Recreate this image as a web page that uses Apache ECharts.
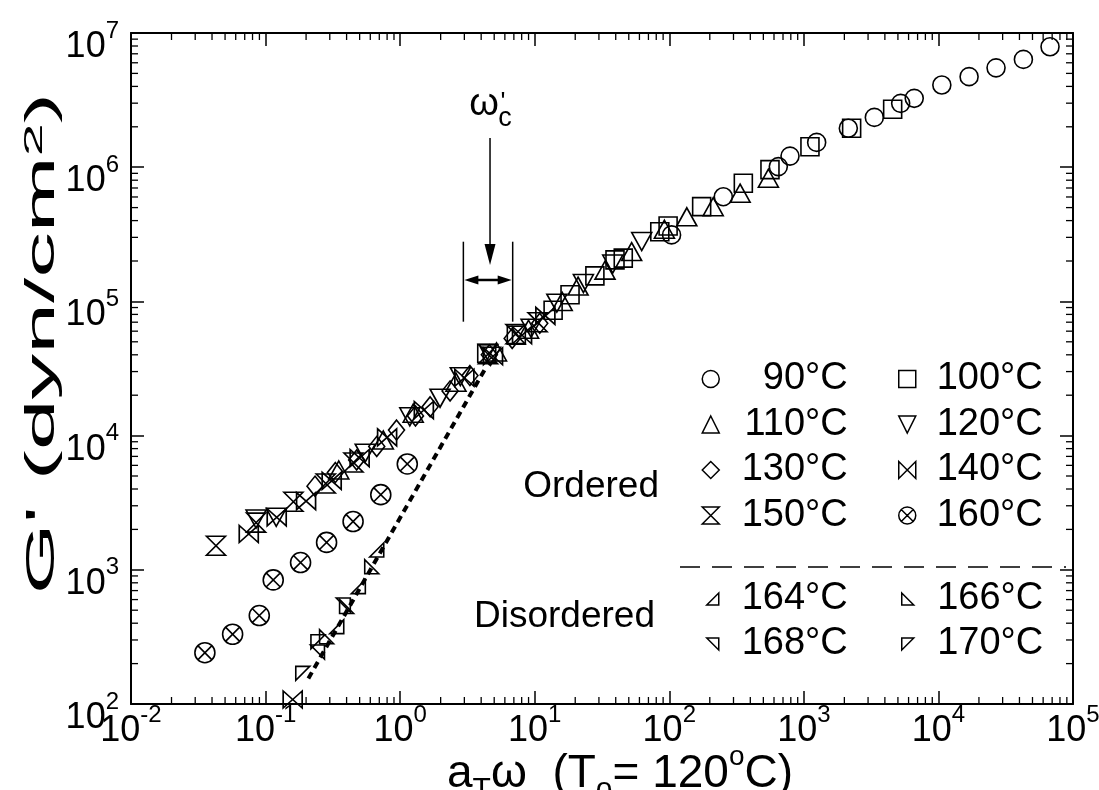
<!DOCTYPE html>
<html><head><meta charset="utf-8">
<script src="https://cdn.jsdelivr.net/npm/echarts@6/dist/echarts.min.js"></script>
<style>html,body{margin:0;padding:0;background:#fff}#c{width:1099px;height:790px}</style>
</head><body><div id="c"></div>
<script>
// ---------- tick labels ----------
const xTickExponents = [-2, -1, 0, 1, 2, 3, 4, 5];
const yTickExponents = [2, 3, 4, 5, 6, 7];
const minorMultipliers = [2, 3, 4, 5, 6, 7, 8, 9];

// ---------- series names ----------
const seriesNames = ['90°C','100°C','110°C','120°C','130°C','140°C','150°C','160°C','164°C','166°C','168°C','170°C'];

// ---------- data ----------
const s90x = [104, 252, 646, 789, 1245, 2140, 3340, 5240, 6610, 10600, 16900, 26800, 42800, 67500];
const s90y = [3.13e5, 6.03e5, 1.01e6, 1.21e6, 1.53e6, 1.95e6, 2.35e6, 2.99e6, 3.26e6, 4.1e6, 4.73e6, 5.5e6, 6.36e6, 7.9e6];

const s100x = [4.4, 7.3, 13.7, 18.3, 28, 39.5, 45.5, 85, 98, 174, 355, 560, 1110, 2265, 4570];
const s100y = [4.1e4, 5.6e4, 8.6e4, 1.12e5, 1.55e5, 2.04e5, 2.1e5, 3.3e5, 3.65e5, 5.08e5, 7.6e5, 9.6e5, 1.42e6, 1.95e6, 2.7e6];

const s110x = [0.35, 0.75, 1.25, 2.6, 5.2, 9.0, 16, 21, 33.3, 52.5, 92, 135, 212, 336, 545];
const s110y = [5540, 9270, 14700, 25000, 42000, 62000, 1.0e5, 1.3e5, 1.71e5, 2.35e5, 3.45e5, 4.27e5, 5.08e5, 6.4e5, 8.27e5];

const s120x = [0.085, 0.12, 0.55, 1.18, 1.98, 2.8, 4.7, 9.4, 14.6, 23, 38, 62.4];
const s120y = [2390, 2460, 7400, 13800, 19000, 27500, 39000, 63000, 9.7e4, 1.36e5, 1.9e5, 2.79e5];

const s130x = [0.233, 0.33, 0.475, 0.67, 0.94, 1.3, 1.67, 2.35, 3.3, 4.6, 6.8, 10.9];
const s130y = [4200, 5300, 6580, 8300, 11000, 14000, 16400, 21500, 28000, 40000, 53000, 68700];

const s140x = [0.075, 0.121, 0.159, 0.2, 0.31, 0.5, 0.8, 1.5, 3.0, 4.9, 8.05, 12];
const s140y = [1850, 2460, 108, 3250, 4600, 6800, 9700, 15500, 27000, 39000, 56000, 78000];

const s150x = [0.0428, 0.085, 0.161, 0.28, 0.45, 4.5, 7.2, 10.5];
const s150y = [1510, 2245, 3217, 4400, 6300, 40500, 57000, 70000];

const s160x = [0.0354, 0.0569, 0.0898, 0.114, 0.182, 0.284, 0.447, 0.718, 1.13];
const s160y = [241, 331, 456, 841, 1132, 1600, 2290, 3630, 6150];

const s164x = [0.338, 0.489, 0.67];
const s164y = [377, 749, 1406];
const s166x = [0.284, 0.40, 0.615];
const s166y = [317, 533, 1054];
const s168x = [0.243, 0.378];
const s168y = [244, 547];
const s170x = [0.189, 0.245];
const s170y = [169, 291];

// dashed guide line (terminal slope)
const guideX = [0.208, 4.4];
const guideY = [155, 33000];

// omega_c' annotation (data coordinates)
const annotX = { left: 2.95, right: 6.86, arrow: 4.655 };
const annotY = { low: 7.06e4, high: 2.785e5, dbl: 1.444e5, arrowTop: 1.65e6, arrowTip: 1.87e5, label: 2.91e6 };

// ---------- helpers ----------
const FONT = '"Liberation Sans", Arial, Helvetica, sans-serif';
const zip = (xs, ys) => xs.map((x, i) => [x, ys[i]]);
const X_MIN = 0.01, X_MAX = 1e5, Y_MIN = 100, Y_MAX = 1e7;

const SYM = {
  circle: 'circle',
  square: 'rect',
  triUp: 'triangle',
  triDown: 'path://M0,0 L100,0 L50,100 Z',
  diamond: 'diamond',
  bowtie: 'path://M0,0 L100,100 L100,0 L0,100 Z',
  hourglass: 'path://M0,0 L100,0 L0,100 L100,100 Z',
  otimes: 'path://M0,50 A50,50 0 1 1 100,50 A50,50 0 1 1 0,50 Z M14.6,14.6 L85.4,85.4 M85.4,14.6 L14.6,85.4',
  rtBR: 'path://M100,0 L100,100 L0,100 Z',
  rtBL: 'path://M0,0 L0,100 L100,100 Z',
  rtTR: 'path://M0,0 L100,0 L100,100 Z',
  rtTL: 'path://M0,0 L100,0 L0,100 Z'
};

const defs = [
  { x: s90x, y: s90y, sym: SYM.circle, size: 18 },
  { x: s100x, y: s100y, sym: SYM.square, size: 18 },
  { x: s110x, y: s110y, sym: SYM.triUp, size: [20, 18] },
  { x: s120x, y: s120y, sym: SYM.triDown, size: [20, 18] },
  { x: s130x, y: s130y, sym: SYM.diamond, size: [16, 20] },
  { x: s140x, y: s140y, sym: SYM.bowtie, size: [19, 17] },
  { x: s150x, y: s150y, sym: SYM.hourglass, size: [19, 19] },
  { x: s160x, y: s160y, sym: SYM.otimes, size: 20 },
  { x: s164x, y: s164y, sym: SYM.rtBR, size: 14 },
  { x: s166x, y: s166y, sym: SYM.rtBL, size: 14 },
  { x: s168x, y: s168y, sym: SYM.rtTR, size: 14 },
  { x: s170x, y: s170y, sym: SYM.rtTL, size: 14 }
];

const markerStyle = { color: 'rgba(0,0,0,0)', borderColor: '#000', borderWidth: 1.6, opacity: 1 };

const scatterSeries = defs.map((d, i) => ({
  type: 'scatter', name: seriesNames[i],
  data: zip(d.x, d.y),
  symbol: d.sym, symbolSize: d.size,
  itemStyle: markerStyle,
  emphasis: { disabled: true }, silent: true, z: 5
}));

// minor log ticks
const xDecades = xTickExponents.slice(0, -1);
const yDecades = yTickExponents.slice(0, -1);
const xMinor = [];
xDecades.forEach(e => minorMultipliers.forEach(m => xMinor.push(m * Math.pow(10, e))));
const yMinor = [];
yDecades.forEach(e => minorMultipliers.forEach(m => yMinor.push(m * Math.pow(10, e))));

const tickStyle = { stroke: '#000', lineWidth: 1.3 };
function renderXMinor(params, api) {
  const v = api.value(0);
  const b = api.coord([v, Y_MIN]), t = api.coord([v, Y_MAX]);
  return { type: 'group', children: [
    { type: 'line', shape: { x1: b[0], y1: b[1], x2: b[0], y2: b[1] - 7 }, style: tickStyle },
    { type: 'line', shape: { x1: t[0], y1: t[1], x2: t[0], y2: t[1] + 7 }, style: tickStyle }
  ]};
}
function renderYMinor(params, api) {
  const v = api.value(1);
  const l = api.coord([X_MIN, v]), r = api.coord([X_MAX, v]);
  return { type: 'group', children: [
    { type: 'line', shape: { x1: l[0], y1: l[1], x2: l[0] + 7, y2: l[1] }, style: tickStyle },
    { type: 'line', shape: { x1: r[0], y1: r[1], x2: r[0] - 7, y2: r[1] }, style: tickStyle }
  ]};
}

function renderAnnot(params, api) {
  const L1 = api.coord([annotX.left, annotY.low]), L2 = api.coord([annotX.left, annotY.high]);
  const R1 = api.coord([annotX.right, annotY.low]), R2 = api.coord([annotX.right, annotY.high]);
  const yD = api.coord([annotX.left, annotY.dbl])[1];
  const xL = L1[0], xR = R1[0];
  const top = api.coord([annotX.arrow, annotY.arrowTop]);
  const tip = api.coord([annotX.arrow, annotY.arrowTip]);
  const lab = api.coord([annotX.arrow, annotY.label]);
  const st = { stroke: '#000', lineWidth: 1.5 };
  const hl = 15, hw = 4.5;
  const txt = (t, x, y, fs) => ({ type: 'text', x, y, style: { text: t, fontSize: fs, fontFamily: FONT, fill: '#000', align: 'center', verticalAlign: 'middle' } });
  return { type: 'group', children: [
    { type: 'line', shape: { x1: xL, y1: L1[1], x2: xL, y2: L2[1] }, style: st },
    { type: 'line', shape: { x1: xR, y1: R1[1], x2: xR, y2: R2[1] }, style: st },
    { type: 'line', shape: { x1: xL + hl - 2, y1: yD, x2: xR - hl + 2, y2: yD }, style: { stroke: '#000', lineWidth: 2.5 } },
    { type: 'polygon', shape: { points: [[xL + 1, yD], [xL + hl, yD - hw], [xL + hl, yD + hw]] }, style: { fill: '#000' } },
    { type: 'polygon', shape: { points: [[xR - 1, yD], [xR - hl, yD - hw], [xR - hl, yD + hw]] }, style: { fill: '#000' } },
    { type: 'line', shape: { x1: top[0], y1: top[1], x2: tip[0], y2: tip[1] - 18 }, style: st },
    { type: 'polygon', shape: { points: [[tip[0], tip[1]], [tip[0] - 5.5, tip[1] - 21], [tip[0] + 5.5, tip[1] - 21]] }, style: { fill: '#000' } },
    txt('ω', lab[0] - 6, lab[1], 38),
    txt('c', lab[0] + 15, lab[1] + 14, 27),
    txt("'", lab[0] + 13, lab[1] - 2, 26)
  ]};
}

// ---------- axes ----------
const tickRich = {
  b: { fontSize: 36, fontFamily: FONT, color: '#000', lineHeight: 36, padding: [14, 0, 14, 0], verticalAlign: 'top' },
  s: { fontSize: 24, fontFamily: FONT, color: '#000', lineHeight: 24, padding: [4, 0, 0, 0], verticalAlign: 'top' }
};
function expLabel(list) {
  return v => {
    const e = Math.round(Math.log10(v));
    return list.indexOf(e) >= 0 ? '{b|10}{s|' + e + '}' : '';
  };
}
const axisLineStyle = { show: true, lineStyle: { color: '#000', width: 2 } };
const majorTick = { show: true, inside: true, length: 13, lineStyle: { color: '#000', width: 1.5 } };

const xAxes = [
  { type: 'log', logBase: 10, min: X_MIN, max: X_MAX, interval: 1, position: 'bottom',
    axisLine: axisLineStyle, axisTick: majorTick, splitLine: { show: false }, minorTick: { show: false },
    axisLabel: { show: true, margin: -5, formatter: expLabel(xTickExponents), rich: tickRich } },
  { type: 'log', logBase: 10, min: X_MIN, max: X_MAX, interval: 1, position: 'top',
    axisLine: axisLineStyle, axisTick: majorTick, splitLine: { show: false }, axisLabel: { show: false } }
];
const yAxes = [
  { type: 'log', logBase: 10, min: Y_MIN, max: Y_MAX, interval: 1, position: 'left',
    axisLine: axisLineStyle, axisTick: majorTick, splitLine: { show: false },
    axisLabel: { show: true, margin: 12, formatter: expLabel(yTickExponents), rich: tickRich } },
  { type: 'log', logBase: 10, min: Y_MIN, max: Y_MAX, interval: 1, position: 'right',
    axisLine: axisLineStyle, axisTick: majorTick, splitLine: { show: false }, axisLabel: { show: false } }
];

// ---------- legend blocks ----------
function legendBlock(names, left, top, iw, padLeft, gap) {
  return {
    data: names, orient: 'vertical', left: left, top: top, padding: 0, itemGap: gap,
    itemWidth: iw, itemHeight: iw, selectedMode: false,
    itemStyle: { color: 'rgba(0,0,0,0)', borderColor: '#000', borderWidth: 1.5 },
    formatter: n => '{t|' + n + '}',
    textStyle: { color: '#000', fontFamily: FONT, fontSize: 38,
      rich: { t: { fontSize: 38, fontFamily: FONT, color: '#000', width: 104, align: 'right', lineHeight: 45, padding: [0, 0, 0, padLeft] } } }
  };
}

const option = {
  animation: false,
  backgroundColor: '#fff',
  textStyle: { fontFamily: FONT, color: '#000' },
  grid: { left: 131, right: 26, top: 33, bottom: 86, containLabel: false, outerBoundsMode: 'none' },
  xAxis: xAxes,
  yAxis: yAxes,
  legend: [
    legendBlock([seriesNames[0], seriesNames[2], seriesNames[4], seriesNames[6]], 701.5, 360, 17, 19.5, 7.5),
    legendBlock([seriesNames[1], seriesNames[3], seriesNames[5], seriesNames[7]], 898, 360, 17, 18, 7.5),
    legendBlock([seriesNames[8], seriesNames[10]], 706, 580, 12, 20, 7),
    legendBlock([seriesNames[9], seriesNames[11]], 901, 580, 12, 20.5, 7)
  ],
  graphic: [
    { type: 'text', x: 36.5, y: 343.5, rotation: Math.PI / 2, scaleX: 2.28,
      style: { text: "{b|G' (dyn/cm}{s|2}{b|)}", align: 'center', verticalAlign: 'middle', fill: '#000', fontFamily: FONT,
        rich: { b: { fontSize: 40, fontFamily: FONT, lineHeight: 40, padding: [6, 0, 0, 0], verticalAlign: 'top' },
                s: { fontSize: 26, fontFamily: FONT, lineHeight: 26, padding: [5, 0, 0, 0], verticalAlign: 'top' } } } },
    { type: 'text', x: 620, y: 766,
      style: { text: '{b|a}{sub|T}{b|ω  (T}{sub|o}{b|= 120}{sup|o}{b|C)}', align: 'center', verticalAlign: 'middle', fill: '#000', fontFamily: FONT,
        rich: { b: { fontSize: 46, fontFamily: FONT, lineHeight: 46, padding: [8, 0, 0, 0], verticalAlign: 'top' },
                sub: { fontSize: 30, fontFamily: FONT, lineHeight: 30, padding: [32, 0, 0, 0], verticalAlign: 'top' },
                sup: { fontSize: 28, fontFamily: FONT, lineHeight: 28, verticalAlign: 'top' } } } },
    { type: 'text', x: 659, y: 487, style: { text: 'Ordered', fontSize: 37, fontFamily: FONT, fill: '#000', align: 'right', verticalAlign: 'middle' } },
    { type: 'text', x: 655, y: 617, style: { text: 'Disordered', fontSize: 37, fontFamily: FONT, fill: '#000', align: 'right', verticalAlign: 'middle' } },
    { type: 'line', shape: { x1: 680, y1: 567, x2: 1066, y2: 567 }, style: { stroke: '#000', lineWidth: 1.5, lineDash: [20, 12] } }
  ],
  series: scatterSeries.concat([
    { type: 'line', name: 'guide', data: zip(guideX, guideY), symbol: 'none', silent: true, z: 3,
      lineStyle: { color: '#000', width: 4, type: [7, 5] }, emphasis: { disabled: true } },
    { type: 'custom', name: 'xMinorTicks', data: xMinor.map(v => [v, Y_MIN]), renderItem: renderXMinor, silent: true, clip: false, z: 2 },
    { type: 'custom', name: 'yMinorTicks', data: yMinor.map(v => [X_MIN, v]), renderItem: renderYMinor, silent: true, clip: false, z: 2 },
    { type: 'custom', name: 'annotation', data: [[annotX.arrow, annotY.label]], renderItem: renderAnnot, silent: true, clip: false, z: 4 }
  ])
};

const chart = echarts.init(document.getElementById('c'), null, { renderer: 'canvas' });
chart.setOption(option);
</script>
</body></html>
